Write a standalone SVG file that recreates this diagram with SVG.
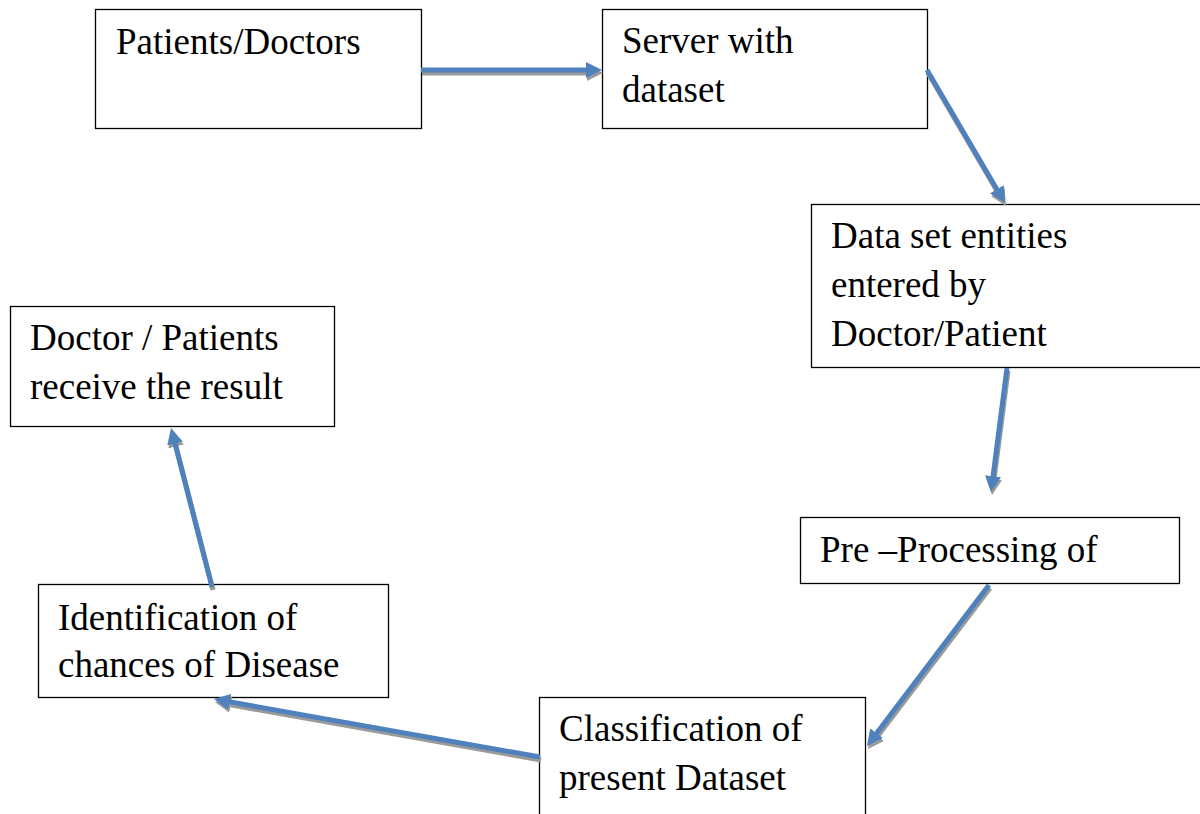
<svg xmlns="http://www.w3.org/2000/svg" width="1200" height="814" viewBox="0 0 1200 814">
<style>
.box{fill:#fff;stroke:#000;stroke-width:1.3}
.t{font-family:"Liberation Serif","Times New Roman",serif;font-size:37px;fill:#000}
.a{stroke:#4F81BD;stroke-width:5;fill:none;marker-end:url(#hb)}
.s{stroke:#9a9a9a;stroke-width:5;fill:none;marker-end:url(#hs)}
</style>
<defs>
<marker id="hb" viewBox="0 0 16 16" refX="6" refY="8" markerWidth="16" markerHeight="16" markerUnits="userSpaceOnUse" orient="auto"><path d="M0,0 L16,8 L0,16 z" fill="#4F81BD"/></marker>
<marker id="hs" viewBox="0 0 16 16" refX="6" refY="8" markerWidth="16" markerHeight="16" markerUnits="userSpaceOnUse" orient="auto"><path d="M0,0 L16,8 L0,16 z" fill="#9a9a9a"/></marker>
</defs>
<rect width="1200" height="814" fill="#fff"/>
<g id="n1"><rect class="box" x="95.5" y="9.5" width="326" height="119"/><text class="t" x="116" y="54">Patients/Doctors</text></g>
<g id="n2"><rect class="box" x="602.5" y="9.5" width="325" height="119"/><text class="t" x="622" y="53">Server with</text><text class="t" x="622" y="102">dataset</text></g>
<g id="n3"><rect class="box" x="811.5" y="204.5" width="400" height="163"/><text class="t" x="831" y="248">Data set entities</text><text class="t" x="831" y="297">entered by</text><text class="t" x="831" y="346">Doctor/Patient</text></g>
<g id="n4"><rect class="box" x="800.5" y="517.5" width="379" height="66"/><text class="t" x="820" y="562">Pre –Processing of</text></g>
<g id="n5"><rect class="box" x="539.5" y="697.5" width="326" height="130"/><text class="t" x="559" y="741">Classification of</text><text class="t" x="559" y="790">present Dataset</text></g>
<g id="n6"><rect class="box" x="38.5" y="584.5" width="350" height="113"/><text class="t" x="58" y="630">Identification of</text><text class="t" x="58" y="677">chances of Disease</text></g>
<g id="n7"><rect class="box" x="10.5" y="306.5" width="324" height="120"/><text class="t" x="30" y="350">Doctor / Patients</text><text class="t" x="30" y="399">receive the result</text></g>
<g id="connectors">
<g transform="translate(1,3)">
<line class="s" x1="421" y1="70" x2="592" y2="70"/>
<line class="s" x1="927" y1="70" x2="999.9" y2="194.4"/>
<line class="s" x1="1007" y1="368" x2="992.3" y2="482.1"/>
<line class="s" x1="989" y1="585" x2="873" y2="738"/>
<line class="s" x1="540" y1="757" x2="223.8" y2="700.8"/>
<line class="s" x1="212" y1="587" x2="173.5" y2="437.7"/>
</g>
<line class="a" x1="421" y1="70" x2="592" y2="70"/>
<line class="a" x1="927" y1="70" x2="999.9" y2="194.4"/>
<line class="a" x1="1007" y1="368" x2="992.3" y2="482.1"/>
<line class="a" x1="989" y1="585" x2="873" y2="738"/>
<line class="a" x1="540" y1="757" x2="223.8" y2="700.8"/>
<line class="a" x1="212" y1="587" x2="173.5" y2="437.7"/>
</g>
</svg>
